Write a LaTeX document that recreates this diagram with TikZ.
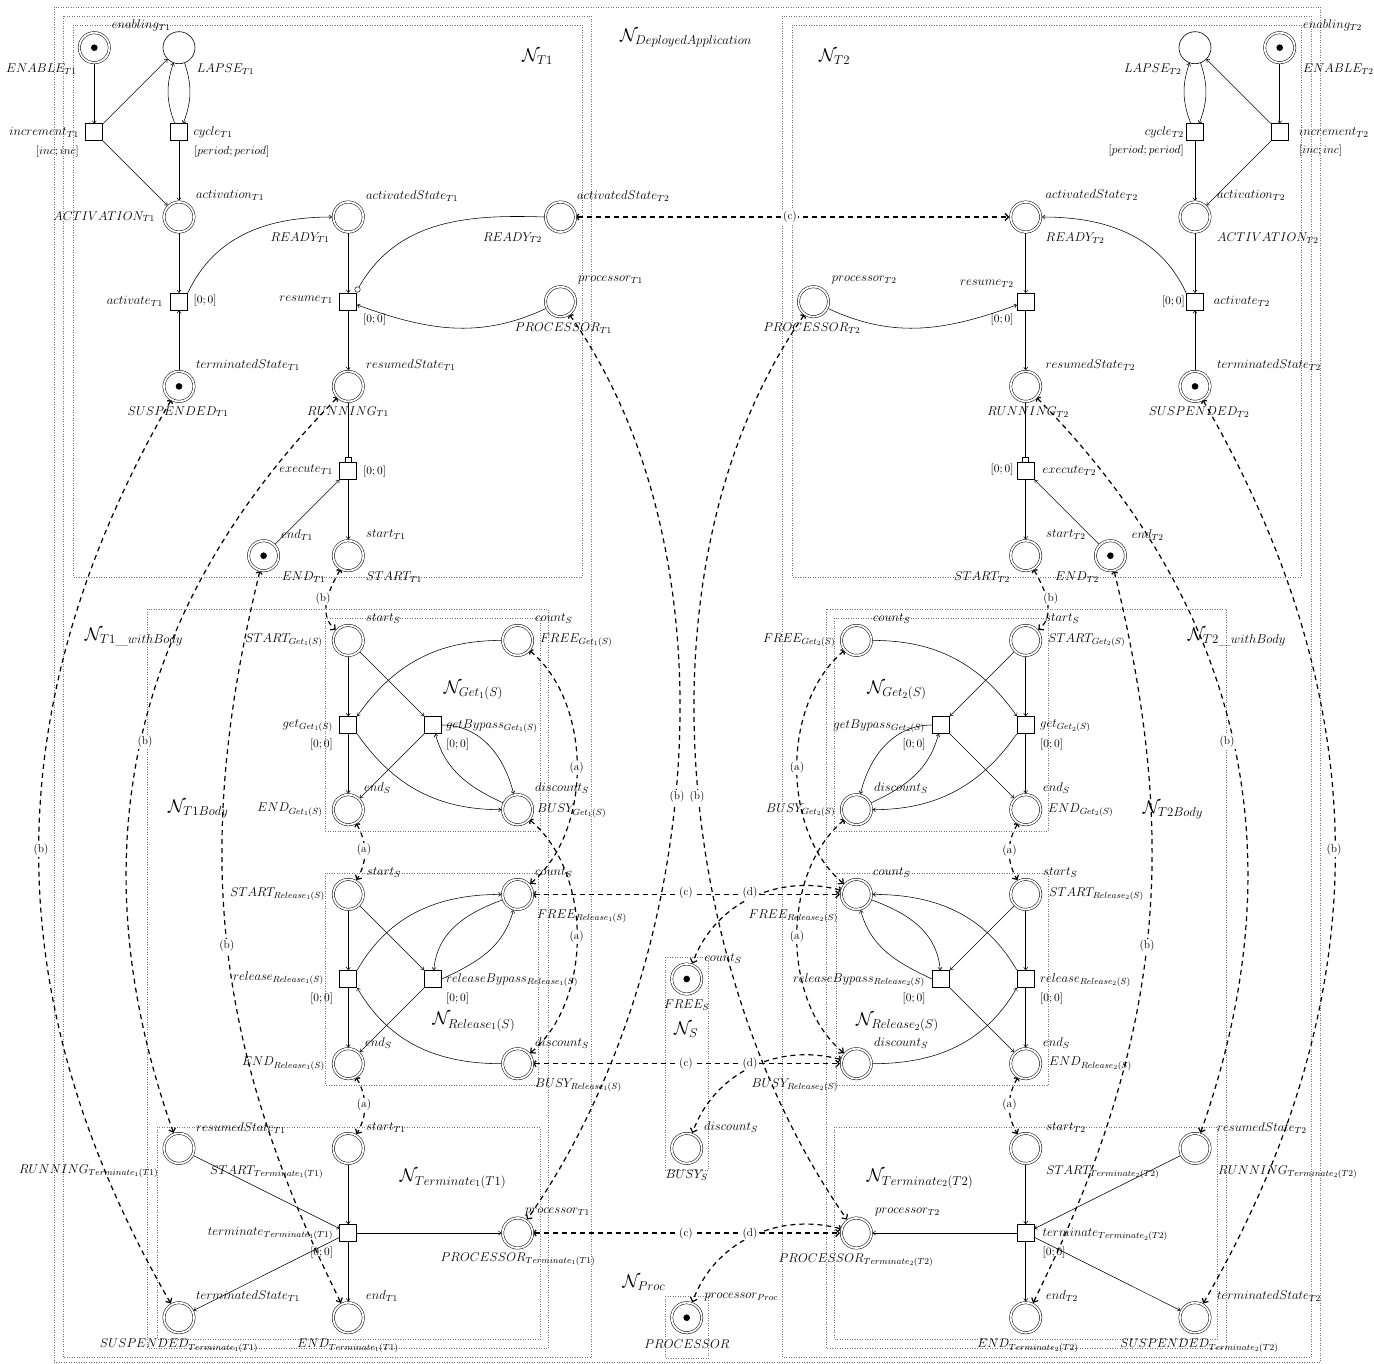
\RequirePackage{fix-cm}
\documentclass[tikz,border=0pt]{standalone}
\usetikzlibrary{arrows.meta}
\newcommand{\mylbl}{\fontsize{12.7}{15}\selectfont}
\newcommand{\mysm}{\fontsize{11.4}{13.5}\selectfont}
\newcommand{\mybig}{\fontsize{18.3}{22}\selectfont}
\begin{document}
\begin{tikzpicture}[x=1pt,y=1pt,
  pl/.style={circle,draw,double,double distance=1.8pt,line width=0.5pt,minimum size=30pt,inner sep=0pt,outer sep=1.4pt},
  spl/.style={circle,draw,line width=0.6pt,minimum size=32pt,inner sep=0pt,outer sep=0.3pt},
  tok/.style={path picture={\fill[black] (path picture bounding box.center) circle (3.3pt);}},
  tr/.style={rectangle,draw,line width=0.8pt,minimum size=17pt,inner sep=0pt,outer sep=0.4pt},
  inh/.style={circle,draw,line width=0.5pt,minimum size=5.5pt,inner sep=0pt,fill=white},
  xmk/.style={rectangle,draw,line width=0.6pt,minimum width=6pt,minimum height=5.5pt,inner sep=0pt},
  parc/.style={line width=0.55pt,arrows={-To[length=3pt,width=4.5pt]}},
  plainarc/.style={line width=0.55pt},
  fusarc/.style={line width=1.2pt,dash pattern=on 5pt off 4pt,arrows={Arc Barb[length=2.2pt,width=7pt]-Straight Barb[length=3.5pt,width=7pt]}},
  netbox/.style={draw=black!55,line width=0.5pt,dotted},
  lab/.style={font=\mylbl,inner sep=0pt},
  smlab/.style={font=\mysm,inner sep=0pt},
  biglab/.style={font=\mybig,inner sep=0pt},
  tagl/.style={font=\mysm,fill=white,inner sep=1.2pt}
]
\fill[white] (0,0) rectangle (1374,-1364);
\useasboundingbox (0,0) rectangle (1374,-1364);

% ---------- boxes ----------
\draw[netbox] (54,-7) rectangle (1320,-1362);
\draw[netbox] (63,-16) rectangle (591.7,-1357);
\draw[netbox] (782.3,-16) rectangle (1311,-1357);
\draw[netbox] (73,-25) rectangle (582,-577);
\draw[netbox] (792,-25) rectangle (1301,-577);
\draw[netbox] (147.5,-609) rectangle (548,-1348);
\draw[netbox] (826,-609) rectangle (1226.5,-1348);
\draw[netbox] (325.7,-618) rectangle (540,-831);
\draw[netbox] (834,-618) rectangle (1048.3,-831);
\draw[netbox] (325.7,-873) rectangle (538.3,-1085);
\draw[netbox] (836,-873) rectangle (1048.3,-1085);
\draw[netbox] (157,-1127) rectangle (540.2,-1339);
\draw[netbox] (834,-1127) rectangle (1217,-1339);
\draw[netbox] (665,-957) rectangle (708.3,-1170);
\draw[netbox] (665,-1296) rectangle (708.3,-1358);

% ---------- T1 net ----------
\node[pl,tok] (ENABLE_T1) at (94.3,-47.7) {};
\node[spl] (LAPSE_T1) at (179,-47.7) {};
\node[tr] (increment_T1) at (94.3,-132.4) {};
\node[tr] (cycle_T1) at (179,-132.4) {};
\node[pl] (ACTIVATION_T1) at (179,-217) {};
\node[pl] (READY_T1) at (348.3,-217) {};
\node[pl] (READY_T2c) at (560.5,-217) {};
\node[tr] (activate_T1) at (179,-301.7) {};
\node[tr] (resume_T1) at (348.3,-301.7) {};
\node[inh] (inh_T1) at (357.5,-289.5) {};
\node[pl] (PROCESSOR_T1) at (560.5,-301.7) {};
\node[pl,tok] (SUSPENDED_T1) at (179,-386.4) {};
\node[pl] (RUNNING_T1) at (348.3,-386.4) {};
\node[tr] (execute_T1) at (348.3,-471) {};
\node[xmk] (xm_T1) at (348.3,-459.7) {};
\node[pl,tok] (END_T1) at (263.6,-555.7) {};
\node[pl] (START_T1) at (348.3,-555.7) {};

% ---------- T2 net ----------
\node[pl,tok] (ENABLE_T2) at (1279.7,-47.7) {};
\node[spl] (LAPSE_T2) at (1195,-47.7) {};
\node[tr] (increment_T2) at (1279.7,-132.4) {};
\node[tr] (cycle_T2) at (1195,-132.4) {};
\node[pl] (ACTIVATION_T2) at (1195,-217) {};
\node[pl] (READY_T2) at (1025.7,-217) {};
\node[tr] (activate_T2) at (1195,-301.7) {};
\node[tr] (resume_T2) at (1025.7,-301.7) {};
\node[pl] (PROCESSOR_T2) at (813.5,-301.7) {};
\node[pl,tok] (SUSPENDED_T2) at (1195,-386.4) {};
\node[pl] (RUNNING_T2) at (1025.7,-386.4) {};
\node[tr] (execute_T2) at (1025.7,-471) {};
\node[xmk] (xm_T2) at (1025.7,-459.7) {};
\node[pl] (START_T2) at (1025.7,-555.7) {};
\node[pl,tok] (END_T2) at (1110.4,-555.7) {};

% ---------- Get1 / Release1 / Terminate1 ----------
\node[pl] (START_G1) at (348.3,-640.4) {};
\node[pl] (FREE_G1) at (517.6,-640.4) {};
\node[tr] (get_G1) at (348.3,-725) {};
\node[tr] (byp_G1) at (433,-725) {};
\node[pl] (END_G1) at (348.3,-809.7) {};
\node[pl] (BUSY_G1) at (517.6,-809.7) {};
\node[pl] (START_R1) at (348.3,-894.4) {};
\node[pl] (FREE_R1) at (517.6,-894.4) {};
\node[tr] (rel_R1) at (348.3,-979) {};
\node[tr] (byp_R1) at (433,-979) {};
\node[pl] (END_R1) at (348.3,-1063.7) {};
\node[pl] (BUSY_R1) at (517.6,-1063.7) {};
\node[pl] (RUN_X1) at (179,-1148.4) {};
\node[pl] (START_X1) at (348.3,-1148.4) {};
\node[tr] (term_X1) at (348.3,-1233) {};
\node[pl] (PROC_X1) at (517.6,-1233) {};
\node[pl] (SUSP_X1) at (179,-1317.7) {};
\node[pl] (END_X1) at (348.3,-1317.7) {};

% ---------- Get2 / Release2 / Terminate2 ----------
\node[pl] (FREE_G2) at (856.4,-640.4) {};
\node[pl] (START_G2) at (1025.7,-640.4) {};
\node[tr] (byp_G2) at (941,-725) {};
\node[tr] (get_G2) at (1025.7,-725) {};
\node[pl] (BUSY_G2) at (856.4,-809.7) {};
\node[pl] (END_G2) at (1025.7,-809.7) {};
\node[pl] (FREE_R2) at (856.4,-894.4) {};
\node[pl] (START_R2) at (1025.7,-894.4) {};
\node[tr] (byp_R2) at (941,-979) {};
\node[tr] (rel_R2) at (1025.7,-979) {};
\node[pl] (BUSY_R2) at (856.4,-1063.7) {};
\node[pl] (END_R2) at (1025.7,-1063.7) {};
\node[pl] (START_X2) at (1025.7,-1148.4) {};
\node[pl] (RUN_X2) at (1195,-1148.4) {};
\node[pl] (PROC_X2) at (856.4,-1233) {};
\node[tr] (term_X2) at (1025.7,-1233) {};
\node[pl] (END_X2) at (1025.7,-1317.7) {};
\node[pl] (SUSP_X2) at (1195,-1317.7) {};

% ---------- centre ----------
\node[pl,tok] (FREE_S) at (686.7,-979) {};
\node[pl] (BUSY_S) at (686.7,-1148.4) {};
\node[pl,tok] (PROC) at (686.7,-1317.7) {};

% ---------- solid arcs T1 ----------
\draw[parc] (ENABLE_T1) -- (increment_T1);
\draw[parc] (increment_T1.north east) -- (LAPSE_T1);
\draw[parc] (increment_T1.south east) -- (ACTIVATION_T1);
\draw[parc] (cycle_T1.115) to[bend left=20] (LAPSE_T1.250);
\draw[parc] (LAPSE_T1.290) to[bend left=20] (cycle_T1.65);
\draw[parc] (cycle_T1) -- (ACTIVATION_T1);
\draw[parc] (ACTIVATION_T1) -- (activate_T1);
\draw[parc] (SUSPENDED_T1) -- (activate_T1);
\draw[parc] (activate_T1.north east) to[out=65,in=180] (READY_T1.west);
\draw[parc] (READY_T1) -- (resume_T1);
\draw[plainarc] (READY_T2c.west) to[out=178,in=60] (inh_T1);
\draw[parc] (PROCESSOR_T1) to[out=205,in=-20] (resume_T1);
\draw[parc] (resume_T1) -- (RUNNING_T1);
\draw[plainarc] (RUNNING_T1) -- (xm_T1);
\draw[parc] (execute_T1) -- (START_T1);
\draw[parc] (END_T1) -- (execute_T1.south west);

% ---------- solid arcs T2 ----------
\draw[parc] (ENABLE_T2) -- (increment_T2);
\draw[parc] (increment_T2.north west) -- (LAPSE_T2);
\draw[parc] (increment_T2.south west) -- (ACTIVATION_T2);
\draw[parc] (cycle_T2.115) to[bend left=20] (LAPSE_T2.250);
\draw[parc] (LAPSE_T2.290) to[bend left=20] (cycle_T2.65);
\draw[parc] (cycle_T2) -- (ACTIVATION_T2);
\draw[parc] (ACTIVATION_T2) -- (activate_T2);
\draw[parc] (SUSPENDED_T2) -- (activate_T2);
\draw[parc] (activate_T2.north west) to[out=115,in=0] (READY_T2.east);
\draw[parc] (READY_T2) -- (resume_T2);
\draw[parc] (PROCESSOR_T2) to[out=-25,in=200] (resume_T2);
\draw[parc] (resume_T2) -- (RUNNING_T2);
\draw[plainarc] (RUNNING_T2) -- (xm_T2);
\draw[parc] (execute_T2) -- (START_T2);
\draw[parc] (END_T2) -- (execute_T2.south east);

% ---------- Get1 ----------
\draw[parc] (START_G1) -- (get_G1);
\draw[parc] (START_G1) -- (byp_G1.north west);
\draw[parc] (FREE_G1.west) to[out=180,in=55] (get_G1.north east);
\draw[parc] (get_G1) -- (END_G1);
\draw[parc] (get_G1.south east) to[out=-55,in=180] (BUSY_G1.west);
\draw[parc] (byp_G1.south west) -- (END_G1);
\draw[parc] (byp_G1.east) to[out=0,in=104] (BUSY_G1);
\draw[parc] (BUSY_G1) to[out=155,in=-75] (byp_G1);
% ---------- Release1 ----------
\draw[parc] (START_R1) -- (rel_R1);
\draw[parc] (START_R1) -- (byp_R1.north west);
\draw[parc] (rel_R1.north east) to[out=60,in=180] (FREE_R1.west);
\draw[parc] (byp_R1.east) to[out=25,in=-105] (FREE_R1);
\draw[parc] (FREE_R1) to[out=200,in=85] (byp_R1);
\draw[parc] (rel_R1) -- (END_R1);
\draw[parc] (byp_R1.south west) -- (END_R1);
\draw[parc] (BUSY_R1.west) to[out=180,in=-60] (rel_R1.south east);
% ---------- Terminate1 ----------
\draw[parc] (RUN_X1) -- (term_X1);
\draw[parc] (START_X1) -- (term_X1);
\draw[parc] (term_X1) -- (PROC_X1);
\draw[parc] (term_X1) -- (END_X1);
\draw[parc] (term_X1) -- (SUSP_X1);
% ---------- Get2 ----------
\draw[parc] (START_G2) -- (get_G2);
\draw[parc] (START_G2) -- (byp_G2.north east);
\draw[parc] (FREE_G2.east) to[out=0,in=125] (get_G2.north west);
\draw[parc] (get_G2) -- (END_G2);
\draw[parc] (get_G2.south west) to[out=-125,in=0] (BUSY_G2.east);
\draw[parc] (byp_G2.south east) -- (END_G2);
\draw[parc] (byp_G2.west) to[out=180,in=76] (BUSY_G2);
\draw[parc] (BUSY_G2) to[out=25,in=-105] (byp_G2);
% ---------- Release2 ----------
\draw[parc] (START_R2) -- (rel_R2);
\draw[parc] (START_R2) -- (byp_R2.north east);
\draw[parc] (rel_R2.north west) to[out=120,in=0] (FREE_R2.east);
\draw[parc] (byp_R2.west) to[out=155,in=-75] (FREE_R2);
\draw[parc] (FREE_R2) to[out=-20,in=95] (byp_R2);
\draw[parc] (rel_R2) -- (END_R2);
\draw[parc] (byp_R2.south east) -- (END_R2);
\draw[parc] (BUSY_R2.east) to[out=0,in=-120] (rel_R2.south west);
% ---------- Terminate2 ----------
\draw[parc] (RUN_X2) -- (term_X2);
\draw[parc] (START_X2) -- (term_X2);
\draw[parc] (term_X2) -- (PROC_X2);
\draw[parc] (term_X2) -- (END_X2);
\draw[parc] (term_X2) -- (SUSP_X2);

% ---------- fusion connectors ----------
\draw[fusarc] (START_T1) to[out=-120,in=140] (START_G1);
\draw[fusarc] (END_T1) to[bend right=20] (END_X1);
\draw[fusarc] (RUNNING_T1) to[bend right=32] (RUN_X1);
\draw[fusarc] (SUSPENDED_T1) to[bend right=30] (SUSP_X1);
\draw[fusarc] (PROCESSOR_T1) to[out=-55,in=55,looseness=0.85] (PROC_X1);
\draw[fusarc] (END_G1) to[out=-60,in=60] (START_R1);
\draw[fusarc] (END_R1) to[out=-60,in=60] (START_X1);
\draw[fusarc] (FREE_G1) to[out=-40,in=40,looseness=0.9] (FREE_R1);
\draw[fusarc] (BUSY_G1) to[out=-40,in=40,looseness=0.9] (BUSY_R1);
\draw[fusarc] (READY_T2c) -- (READY_T2);
\draw[fusarc] (FREE_R1) -- (FREE_R2);
\draw[fusarc] (BUSY_R1) -- (BUSY_R2);
\draw[fusarc] (PROC_X1) -- (PROC_X2);
\draw[fusarc] (FREE_R2) to[out=165,in=70] (FREE_S);
\draw[fusarc] (BUSY_R2) to[out=165,in=70] (BUSY_S);
\draw[fusarc] (PROC_X2) to[out=165,in=70] (PROC);
\draw[fusarc] (START_T2) to[out=-60,in=40] (START_G2);
\draw[fusarc] (END_T2) to[bend left=20] (END_X2);
\draw[fusarc] (RUNNING_T2) to[bend left=32] (RUN_X2);
\draw[fusarc] (SUSPENDED_T2) to[bend left=30] (SUSP_X2);
\draw[fusarc] (PROCESSOR_T2) to[out=-125,in=125,looseness=0.85] (PROC_X2);
\draw[fusarc] (END_G2) to[out=-120,in=120] (START_R2);
\draw[fusarc] (END_R2) to[out=-120,in=120] (START_X2);
\draw[fusarc] (FREE_G2) to[out=-140,in=140,looseness=0.9] (FREE_R2);
\draw[fusarc] (BUSY_G2) to[out=-140,in=140,looseness=0.9] (BUSY_R2);

% ---------- net names ----------
\node[biglab] (nDA) at (686,-38) {$\mathcal{N}_{DeployedApplication}$};
\node[biglab] (nT1) at (537.5,-57) {$\mathcal{N}_{T1}$};
\node[biglab] (nT2) at (834.6,-57) {$\mathcal{N}_{T2}$};
\node[biglab] (nT1wb) at (134,-637) {$\mathcal{N}_{T1\_withBody}$};
\node[biglab] (nT2wb) at (1237,-637) {$\mathcal{N}_{T2\_withBody}$};
\node[biglab] (nT1b) at (198.3,-808.7) {$\mathcal{N}_{T1Body}$};
\node[biglab] (nT2b) at (1173,-810) {$\mathcal{N}_{T2Body}$};
\node[biglab] (nG1) at (473.5,-690) {$\mathcal{N}_{Get_1(S)}$};
\node[biglab] (nG2) at (897,-690) {$\mathcal{N}_{Get_2(S)}$};
\node[biglab] (nR1) at (474,-1021.7) {$\mathcal{N}_{Release_1(S)}$};
\node[biglab] (nR2) at (897.5,-1022) {$\mathcal{N}_{Release_2(S)}$};
\node[biglab] (nX1) at (453,-1178.7) {$\mathcal{N}_{Terminate_1(T1)}$};
\node[biglab] (nX2) at (920,-1178.7) {$\mathcal{N}_{Terminate_2(T2)}$};
\node[biglab] (nS) at (686,-1030) {$\mathcal{N}_{S}$};
\node[biglab] (nP) at (644,-1283) {$\mathcal{N}_{Proc}$};

% ---------- T1 labels ----------
\node[lab,anchor=west] (a1) at (111.7,-25) {$enabling_{T1}$};
\node[lab,anchor=east] (a2) at (76.7,-69.3) {$ENABLE_{T1}$};
\node[lab,anchor=west] (a3) at (196.7,-69.3) {$LAPSE_{T1}$};
\node[lab,anchor=east] (a4) at (79,-132) {$increment_{T1}$};
\node[smlab,anchor=east] (a5) at (79,-152) {$[inc; inc]$};
\node[lab,anchor=west] (a6) at (193.3,-132) {$cycle_{T1}$};
\node[smlab,anchor=west] (a7) at (194,-152) {$[period; period]$};
\node[lab,anchor=west] (a8) at (196,-195) {$activation_{T1}$};
\node[lab,anchor=east] (a9) at (155,-216.7) {$ACTIVATION_{T1}$};
\node[lab,anchor=west] (a10) at (366,-195.7) {$activatedState_{T1}$};
\node[lab,anchor=east] (a11) at (329.5,-237.7) {$READY_{T1}$};
\node[lab,anchor=west] (a12) at (577,-195.7) {$activatedState_{T2}$};
\node[lab,anchor=east] (a13) at (542,-237.7) {$READY_{T2}$};
\node[lab,anchor=east] (a14) at (163,-301) {$activate_{T1}$};
\node[smlab,anchor=west] (a15) at (193.5,-301) {$[0; 0]$};
\node[lab,anchor=east] (a16) at (333,-300) {$resume_{T1}$};
\node[smlab,anchor=west] (a17) at (363,-319.7) {$[0; 0]$};
\node[lab,anchor=west] (a18) at (578,-280) {$processor_{T1}$};
\node[lab,anchor=west] (a19) at (514.6,-328) {$PROCESSOR_{T1}$};
\node[lab,anchor=west] (a20) at (196,-365) {$terminatedState_{T1}$};
\node[lab] (a21) at (178,-411.7) {$SUSPENDED_{T1}$};
\node[lab,anchor=west] (a22) at (366,-365) {$resumedState_{T1}$};
\node[lab] (a23) at (348,-411.7) {$RUNNING_{T1}$};
\node[lab,anchor=east] (a24) at (333,-470) {$execute_{T1}$};
\node[smlab,anchor=west] (a25) at (363,-471.7) {$[0; 0]$};
\node[lab,anchor=west] (a26) at (281,-535) {$end_{T1}$};
\node[lab,anchor=west] (a27) at (281.6,-577) {$END_{T1}$};
\node[lab,anchor=west] (a28) at (366,-535) {$start_{T1}$};
\node[lab,anchor=west] (a29) at (366,-577) {$START_{T1}$};

% ---------- T2 labels ----------
\node[lab,anchor=west] (b1) at (1303,-25) {$enabling_{T2}$};
\node[lab,anchor=west] (b2) at (1303,-69) {$ENABLE_{T2}$};
\node[lab,anchor=east] (b3) at (1181.5,-69) {$LAPSE_{T2}$};
\node[lab,anchor=east] (b4) at (1184,-132) {$cycle_{T2}$};
\node[smlab,anchor=east] (b5) at (1184,-151) {$[period; period]$};
\node[lab,anchor=west] (b6) at (1299,-132) {$increment_{T2}$};
\node[smlab,anchor=west] (b7) at (1299,-151) {$[inc; inc]$};
\node[lab,anchor=west] (b8) at (1045.5,-195) {$activatedState_{T2}$};
\node[lab,anchor=west] (b9) at (1217,-195) {$activation_{T2}$};
\node[lab,anchor=west] (b10) at (1045.5,-238) {$READY_{T2}$};
\node[lab,anchor=west] (b11) at (1217,-238) {$ACTIVATION_{T2}$};
\node[lab,anchor=west] (b12) at (831.7,-280) {$processor_{T2}$};
\node[lab,anchor=east] (b13) at (860.5,-328) {$PROCESSOR_{T2}$};
\node[lab,anchor=east] (b14) at (1013.7,-284) {$resume_{T2}$};
\node[smlab,anchor=east] (b15) at (1013.7,-320) {$[0; 0]$};
\node[smlab,anchor=east] (b16) at (1185,-301.7) {$[0; 0]$};
\node[lab,anchor=west] (b17) at (1213.7,-301.7) {$activate_{T2}$};
\node[lab,anchor=west] (b18) at (1045.5,-365) {$resumedState_{T2}$};
\node[lab,anchor=west] (b19) at (1217,-365) {$terminatedState_{T2}$};
\node[lab] (b20) at (1028,-412) {$RUNNING_{T2}$};
\node[lab] (b21) at (1199,-412) {$SUSPENDED_{T2}$};
\node[smlab,anchor=east] (b22) at (1013.7,-470) {$[0; 0]$};
\node[lab,anchor=west] (b23) at (1042.5,-471) {$execute_{T2}$};
\node[lab,anchor=west] (b24) at (1046,-535) {$start_{T2}$};
\node[lab,anchor=west] (b25) at (1131.7,-535) {$end_{T2}$};
\node[lab,anchor=east] (b26) at (1010,-577) {$START_{T2}$};
\node[lab,anchor=west] (b27) at (1055,-577) {$END_{T2}$};

% ---------- Get1 / Release1 / Terminate1 labels ----------
\node[lab,anchor=west] (c1) at (366,-619) {$start_S$};
\node[lab,anchor=west] (c2) at (535,-619) {$count_S$};
\node[lab,anchor=east] (c3) at (322.7,-640) {$START_{Get_1(S)}$};
\node[lab,anchor=west] (c4) at (540,-640) {$FREE_{Get_1(S)}$};
\node[lab,anchor=east] (c5) at (333,-725.7) {$get_{Get_1(S)}$};
\node[smlab,anchor=east] (c6) at (333,-745) {$[0; 0]$};
\node[lab,anchor=west] (c7) at (446,-726) {$getBypass_{Get_1(S)}$};
\node[smlab,anchor=west] (c8) at (446,-745) {$[0; 0]$};
\node[lab,anchor=west] (c9) at (364,-788.3) {$end_S$};
\node[lab,anchor=west] (c10) at (535,-788.3) {$discount_S$};
\node[lab,anchor=east] (c11) at (322.7,-809.7) {$END_{Get_1(S)}$};
\node[lab,anchor=west] (c12) at (537,-810.7) {$BUSY_{Get_1(S)}$};
\node[lab,anchor=west] (c13) at (366.7,-873) {$start_S$};
\node[lab,anchor=west] (c14) at (535,-873) {$count_S$};
\node[lab,anchor=east] (c15) at (325,-894.4) {$START_{Release_1(S)}$};
\node[lab,anchor=west] (c16) at (537,-916) {$FREE_{Release_1(S)}$};
\node[lab,anchor=east] (c17) at (324,-978.3) {$release_{Release_1(S)}$};
\node[smlab,anchor=east] (c18) at (333.3,-998.3) {$[0; 0]$};
\node[lab,anchor=west] (c19) at (446,-980) {$releaseBypass_{Release_1(S)}$};
\node[smlab,anchor=west] (c20) at (446,-998.3) {$[0; 0]$};
\node[lab,anchor=west] (c21) at (365,-1042.7) {$end_S$};
\node[lab,anchor=west] (c22) at (535,-1042.7) {$discount_S$};
\node[lab,anchor=east] (c23) at (325,-1063.7) {$END_{Release_1(S)}$};
\node[lab,anchor=west] (c24) at (535,-1085) {$BUSY_{Release_1(S)}$};
\node[lab,anchor=west] (c25) at (196,-1127.7) {$resumedState_{T1}$};
\node[lab,anchor=west] (c26) at (366,-1127.7) {$start_{T1}$};
\node[lab] (c27) at (88.7,-1171) {$RUNNING_{Terminate_1(T1)}$};
\node[lab,anchor=west] (c28) at (210,-1172) {$START_{Terminate_1(T1)}$};
\node[lab,anchor=west] (c29) at (525,-1211.7) {$processor_{T1}$};
\node[lab,anchor=east] (c30) at (333.3,-1233.3) {$terminate_{Terminate_1(T1)}$};
\node[smlab,anchor=east] (c31) at (333.3,-1252.3) {$[0; 0]$};
\node[lab] (c32) at (518,-1259.5) {$PROCESSOR_{Terminate_1(T1)}$};
\node[lab,anchor=west] (c33) at (196,-1296) {$terminatedState_{T1}$};
\node[lab,anchor=west] (c34) at (366,-1296) {$end_{T1}$};
\node[lab] (c35) at (179,-1345.7) {$SUSPENDED_{Terminate_1(T1)}$};
\node[lab] (c36) at (348,-1345.7) {$END_{Terminate_1(T1)}$};

% ---------- Get2 / Release2 / Terminate2 labels ----------
\node[lab,anchor=west] (d1) at (873,-619) {$count_S$};
\node[lab,anchor=west] (d2) at (1045,-619) {$start_S$};
\node[lab,anchor=east] (d3) at (835.5,-640) {$FREE_{Get_2(S)}$};
\node[lab,anchor=west] (d4) at (1048,-640) {$START_{Get_2(S)}$};
\node[lab,anchor=east] (d5) at (925,-726) {$getBypass_{Get_2(S)}$};
\node[smlab,anchor=east] (d6) at (925.7,-745) {$[0; 0]$};
\node[lab,anchor=west] (d7) at (1040,-726) {$get_{Get_2(S)}$};
\node[smlab,anchor=west] (d8) at (1040,-745) {$[0; 0]$};
\node[lab,anchor=west] (d9) at (874,-788.3) {$discount_S$};
\node[lab,anchor=west] (d10) at (1043,-788.3) {$end_S$};
\node[lab,anchor=east] (d11) at (835.5,-810) {$BUSY_{Get_2(S)}$};
\node[lab,anchor=west] (d12) at (1048,-810) {$END_{Get_2(S)}$};
\node[lab,anchor=west] (d13) at (873,-873) {$count_S$};
\node[lab,anchor=west] (d14) at (1043,-873) {$start_S$};
\node[lab,anchor=west] (d15) at (1049,-894.4) {$START_{Release_2(S)}$};
\node[lab,anchor=east] (d16) at (838.3,-916) {$FREE_{Release_2(S)}$};
\node[lab,anchor=east] (d17) at (925,-980) {$releaseBypass_{Release_2(S)}$};
\node[smlab,anchor=east] (d18) at (925.7,-998.3) {$[0; 0]$};
\node[lab,anchor=west] (d19) at (1040,-980) {$release_{Release_2(S)}$};
\node[smlab,anchor=west] (d20) at (1040,-998.3) {$[0; 0]$};
\node[lab,anchor=west] (d21) at (874,-1042.7) {$discount_S$};
\node[lab,anchor=west] (d22) at (1043,-1042.7) {$end_S$};
\node[lab,anchor=west] (d23) at (1049,-1063.7) {$END_{Release_2(S)}$};
\node[lab,anchor=east] (d24) at (838.3,-1085) {$BUSY_{Release_2(S)}$};
\node[lab,anchor=west] (d25) at (1046,-1127.7) {$start_{T2}$};
\node[lab,anchor=west] (d26) at (1217,-1127.7) {$resumedState_{T2}$};
\node[lab,anchor=west] (d27) at (1046,-1172) {$START_{Terminate_2(T2)}$};
\node[lab,anchor=west] (d28) at (1218,-1172) {$RUNNING_{Terminate_2(T2)}$};
\node[lab,anchor=west] (d29) at (875,-1212) {$processor_{T2}$};
\node[lab,anchor=west] (d30) at (1042.5,-1234.7) {$terminate_{Terminate_2(T2)}$};
\node[smlab,anchor=west] (d31) at (1042.5,-1252.3) {$[0; 0]$};
\node[lab] (d32) at (856,-1260) {$PROCESSOR_{Terminate_2(T2)}$};
\node[lab,anchor=west] (d33) at (1217,-1296) {$terminatedState_{T2}$};
\node[lab,anchor=west] (d34) at (1046,-1296) {$end_{T2}$};
\node[lab] (d35) at (1028,-1345.7) {$END_{Terminate_2(T2)}$};
\node[lab] (d36) at (1199.5,-1345.7) {$SUSPENDED_{Terminate_2(T2)}$};

% ---------- centre labels ----------
\node[lab,anchor=west] (e1) at (704.3,-958.3) {$count_S$};
\node[lab] (e2) at (686.7,-1005) {$FREE_S$};
\node[lab,anchor=west] (e3) at (704,-1127.3) {$discount_S$};
\node[lab] (e4) at (686.7,-1175) {$BUSY_S$};
\node[lab,anchor=west] (e5) at (704.3,-1296.7) {$processor_{Proc}$};
\node[lab] (e6) at (687,-1344) {$PROCESSOR$};

% ---------- connector tags ----------
\node[tagl] (g1) at (790,-216.7) {(c)};
\node[tagl] (g2) at (686,-893) {(c)};
\node[tagl] (g3) at (750,-893) {(d)};
\node[tagl] (g4) at (686,-1063.3) {(c)};
\node[tagl] (g5) at (750,-1063.3) {(d)};
\node[tagl] (g6) at (686,-1233.3) {(c)};
\node[tagl] (g7) at (750,-1233.3) {(d)};
\node[tagl] (g8) at (323,-598.3) {(b)};
\node[tagl] (g9) at (1050.7,-598.3) {(b)};
\node[tagl] (g10) at (145,-741.7) {(b)};
\node[tagl] (g11) at (1227,-741.7) {(b)};
\node[tagl] (g12) at (41,-850) {(b)};
\node[tagl] (g13) at (1334,-850) {(b)};
\node[tagl] (g14) at (226.7,-945.7) {(b)};
\node[tagl] (g15) at (1147,-945.7) {(b)};
\node[tagl] (g16) at (677,-797) {(b)};
\node[tagl] (g17) at (697,-797) {(b)};
\node[tagl] (g18) at (576.7,-767.7) {(a)};
\node[tagl] (g19) at (797,-767.7) {(a)};
\node[tagl] (g20) at (364,-850) {(a)};
\node[tagl] (g21) at (1009.5,-851) {(a)};
\node[tagl] (g22) at (576.7,-936.7) {(a)};
\node[tagl] (g23) at (797,-936.7) {(a)};
\node[tagl] (g24) at (364,-1105) {(a)};
\node[tagl] (g25) at (1009.5,-1105) {(a)};
\end{tikzpicture}
\end{document}
